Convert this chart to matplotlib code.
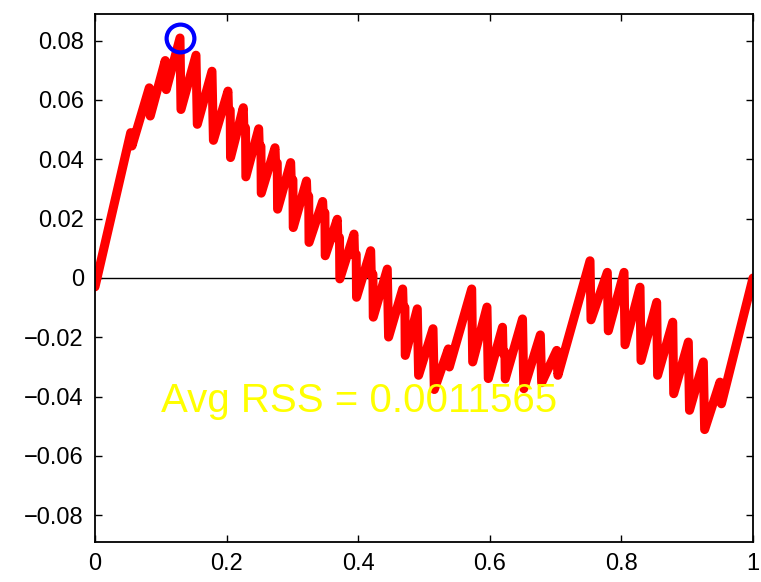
import numpy as np
import matplotlib
matplotlib.use("Agg")
import matplotlib.pyplot as plt

plt.rcParams['font.family'] = ['Liberation Sans', 'DejaVu Sans']

# residual curve vertices
resid_x = [0.000, 0.0543, 0.0562, 0.0825, 0.0840, 0.1068, 0.1083, 0.1292, 0.1307,
           0.1535, 0.1555, 0.1778, 0.1800,
           0.2021, 0.2030, 0.2055, 0.2060,
           0.2254, 0.2263, 0.2288, 0.2293,
           0.2488, 0.2497, 0.2522, 0.2527,
           0.2736, 0.2745, 0.2770, 0.2775,
           0.2974, 0.2983, 0.3008, 0.3013,
           0.3214, 0.3223, 0.3248, 0.3253,
           0.3460, 0.3469, 0.3494, 0.3499,
           0.3682, 0.3691, 0.3716, 0.3721,
           0.3936, 0.3945, 0.3970, 0.3975,
           0.4190, 0.4199, 0.4224, 0.4229,
           0.4442, 0.4462,
           0.4676, 0.4685, 0.4710, 0.4715,
           0.4898, 0.4918,
           0.5137, 0.5157,
           0.5370, 0.5385,
           0.5725, 0.5740,
           0.5957, 0.5977,
           0.6193, 0.6202, 0.6230, 0.6235,
           0.6497, 0.6517,
           0.6768, 0.6788,
           0.7017, 0.7035,
           0.7523, 0.7538,
           0.7786, 0.7801,
           0.8040, 0.8055,
           0.8283, 0.8298,
           0.8536, 0.8550,
           0.8780, 0.8795,
           0.9017, 0.9035,
           0.9245, 0.9265,
           0.9498, 0.9520,
           1.0]
resid_y = [-0.003, 0.0490, 0.0445, 0.0641, 0.0546, 0.0733, 0.0635, 0.0809, 0.0568,
           0.0751, 0.0518, 0.0697, 0.0464,
           0.0630, 0.0561, 0.0566, 0.0406,
           0.0574, 0.0501, 0.0506, 0.0341,
           0.0503, 0.0439, 0.0444, 0.0286,
           0.0439, 0.0383, 0.0388, 0.0232,
           0.0389, 0.0326, 0.0331, 0.0170,
           0.0327, 0.0271, 0.0276, 0.0120,
           0.0258, 0.0215, 0.0220, 0.0075,
           0.0198, 0.0131, 0.0136, -0.0003,
           0.0148, 0.0075, 0.0080, -0.0065,
           0.0092, 0.0008, 0.0013, -0.0132,
           0.0030, -0.0199,
           -0.0037, -0.0104, -0.0099, -0.0261,
           -0.0104, -0.0328,
           -0.0171, -0.0376,
           -0.0239, -0.0300,
           -0.0037, -0.0283,
           -0.0098, -0.0339,
           -0.0166, -0.0255, -0.0250, -0.0340,
           -0.0138, -0.0373,
           -0.0192, -0.0353,
           -0.0244, -0.0328,
           0.0058, -0.0141,
           0.0019, -0.0178,
           0.0019, -0.0225,
           -0.0031, -0.0278,
           -0.0082, -0.0328,
           -0.0149, -0.0390,
           -0.0216, -0.0446,
           -0.0283, -0.0511,
           -0.0351, -0.0424,
           0.0]

peak_x = 0.1292
peak_y = 0.0809
avg_rss = 0.0011565

xticks = [0, 0.2, 0.4, 0.6, 0.8, 1]
xlabels = ['0', '0.2', '0.4', '0.6', '0.8', '1']
yticks = [-0.08, -0.06, -0.04, -0.02, 0, 0.02, 0.04, 0.06, 0.08]
ylabels = ['\u22120.08', '\u22120.06', '\u22120.04', '\u22120.02', '0',
           '0.02', '0.04', '0.06', '0.08']

fig = plt.figure(figsize=(7.61, 5.82), dpi=100)
ax = fig.add_axes([0.1248, 0.0687, 0.8647, 0.9073])

ax.axhline(0, color='k', lw=1.0, zorder=1)
ax.plot(resid_x, resid_y, color='red', lw=6.5, solid_joinstyle='round',
        solid_capstyle='round', zorder=2)
ax.plot([peak_x], [peak_y], 'o', mfc='none', mec='blue', ms=20, mew=3, zorder=3)
ax.text(0.1, -0.0415, 'Avg RSS = %g' % avg_rss, color='yellow', fontsize=29,
        ha='left', va='center', zorder=4)

ax.set_xlim(0, 1)
ax.set_ylim(-0.089, 0.089)
ax.set_xticks(xticks)
ax.set_xticklabels(xlabels)
ax.set_yticks(yticks)
ax.set_yticklabels(ylabels)
ax.tick_params(direction='in', top=True, right=True, length=5, width=1,
               labelsize=17, pad=8)
for s in ax.spines.values():
    s.set_linewidth(1.3)

fig.savefig('out.png', dpi=100)
